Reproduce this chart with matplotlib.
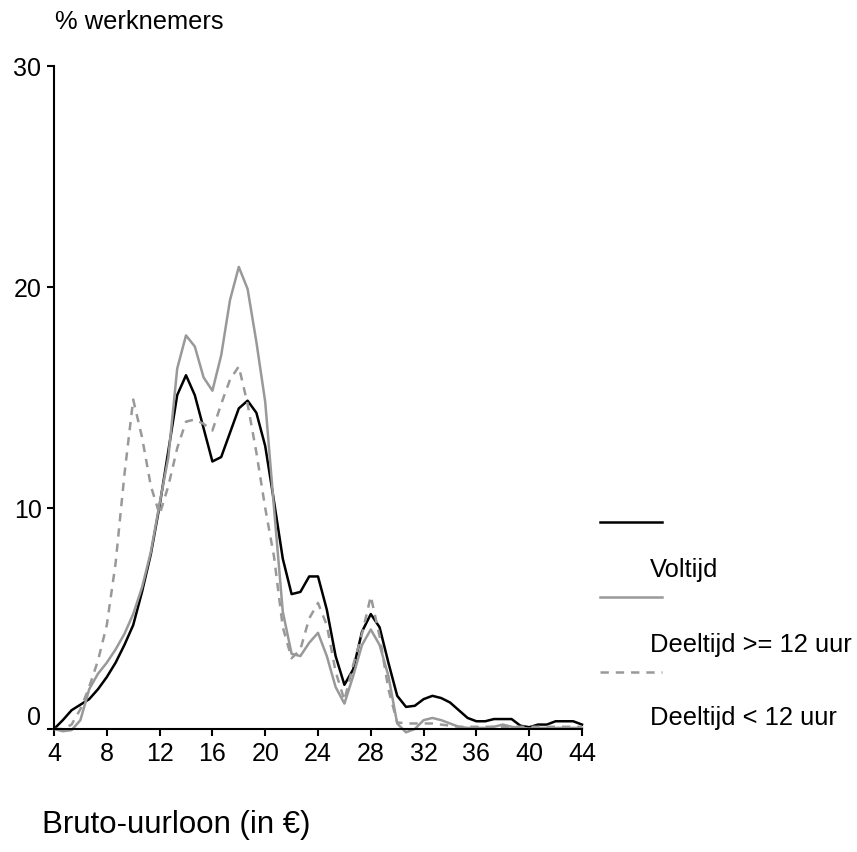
import matplotlib
matplotlib.use("Agg")
import matplotlib.pyplot as plt
import matplotlib.transforms as mtransforms
from matplotlib.lines import Line2D

plt.rcParams['font.family'] = ['Liberation Sans', 'DejaVu Sans']
plt.rcParams['lines.scale_dashes'] = False

# uurloon (in euro), stappen van 2/3 euro
uurloon = [4 + k * 2 / 3 for k in range(61)]

voltijd = [0.0, 0.4, 0.85, 1.1, 1.35, 1.8, 2.35, 3.0, 3.8, 4.7,
           6.2, 7.9, 10.1, 12.6, 15.1, 16.0, 15.1, 13.6, 12.1, 12.3,
           13.4, 14.5, 14.85, 14.3, 12.8, 10.3, 7.7, 6.1, 6.2, 6.9,
           6.9, 5.4, 3.3, 2.0, 2.7, 4.4, 5.2, 4.6, 3.0, 1.5,
           1.0, 1.05, 1.35, 1.5, 1.4, 1.2, 0.85, 0.5, 0.35, 0.35,
           0.45, 0.45, 0.45, 0.15, 0.08, 0.2, 0.2, 0.35, 0.35, 0.35,
           0.2]

deeltijd_ge12 = [0.0, -0.1, -0.05, 0.4, 1.8, 2.5, 3.0, 3.6, 4.3, 5.2,
                 6.4, 8.0, 10.2, 12.3, 16.3, 17.8, 17.3, 15.9, 15.3, 16.9,
                 19.4, 20.9, 19.9, 17.5, 14.8, 10.0, 5.3, 3.4, 3.3, 3.9,
                 4.35, 3.3, 1.9, 1.15, 2.4, 3.8, 4.5, 3.8, 2.4, 0.25,
                 -0.15, 0.0, 0.4, 0.5, 0.4, 0.25, 0.1, 0.05, 0.05, 0.05,
                 0.1, 0.2, 0.1, 0.05, 0.02, 0.05, 0.05, 0.05, 0.05, 0.05,
                 0.05]

deeltijd_lt12 = [0.0, 0.0, 0.2, 0.9, 1.9, 3.1, 4.7, 7.5, 11.5, 14.9,
                 13.2, 11.0, 9.7, 11.0, 12.7, 13.9, 14.0, 13.8, 13.5, 14.7,
                 15.8, 16.4, 14.7, 12.5, 10.0, 7.8, 4.6, 3.2, 3.6, 5.0,
                 5.7, 4.7, 2.6, 1.3, 2.9, 4.3, 6.0, 4.2, 1.8, 0.3,
                 0.25, 0.25, 0.25, 0.25, 0.2, 0.15, 0.1, 0.1, 0.1, 0.1,
                 0.1, 0.1, 0.1, 0.1, 0.1, 0.1, 0.1, 0.1, 0.1, 0.1,
                 0.1]

labels = ['Voltijd', 'Deeltijd >= 12 uur', 'Deeltijd < 12 uur']
xticks = list(range(4, 45, 4))
yticks = [0, 10, 20, 30]

W, H = 857, 853
fig = plt.figure(figsize=(W / 100, H / 100), dpi=100)
ax = fig.add_axes([54 / W, 1 - 730 / H, (582 - 54) / W, (730 - 66.7) / H])

stijlen = [dict(color='black', lw=1.8, ls='-'),
           dict(color='#999999', lw=1.8, ls='-'),
           dict(color='#999999', lw=1.8, ls=(0, (6.0, 5.0)))]

for reeks, st in zip([voltijd, deeltijd_ge12, deeltijd_lt12], stijlen):
    ax.plot(uurloon, reeks, clip_on=False, **st)

ax.set_xlim(4, 44)
ax.set_ylim(0, 30)
ax.set_xticks(xticks)
ax.set_yticks(yticks)
for s in ['top', 'right']:
    ax.spines[s].set_visible(False)
for s in ['left', 'bottom']:
    ax.spines[s].set_linewidth(1.5)
ax.tick_params(direction='out', length=5, width=1.5, labelsize=18, pad=4)

# "0" iets hoger zetten zoals in het origineel
lbl0 = ax.get_yticklabels()[0]
lbl0.set_transform(lbl0.get_transform() +
                   mtransforms.ScaledTranslation(0, 0.14, fig.dpi_scale_trans))

fig.text(55 / W, 1 - 22 / H, '% werknemers', fontsize=18.4, va='center', ha='left')
fig.text(42 / W, 1 - 825 / H, 'Bruto-uurloon (in €)', fontsize=22.5, va='center', ha='left')

# legenda: lijn boven, tekst eronder
lijn_y = [523, 598, 673]
tekst_y = [570, 645, 718]
for st, lab, ly, ty in zip(stijlen, labels, lijn_y, tekst_y):
    fig.add_artist(Line2D([600 / W, 662 / W], [1 - ly / H, 1 - ly / H],
                          transform=fig.transFigure, **st))
    fig.text(650 / W, 1 - ty / H, lab, fontsize=18.4, va='center', ha='left')

fig.savefig('out.png', dpi=100)
